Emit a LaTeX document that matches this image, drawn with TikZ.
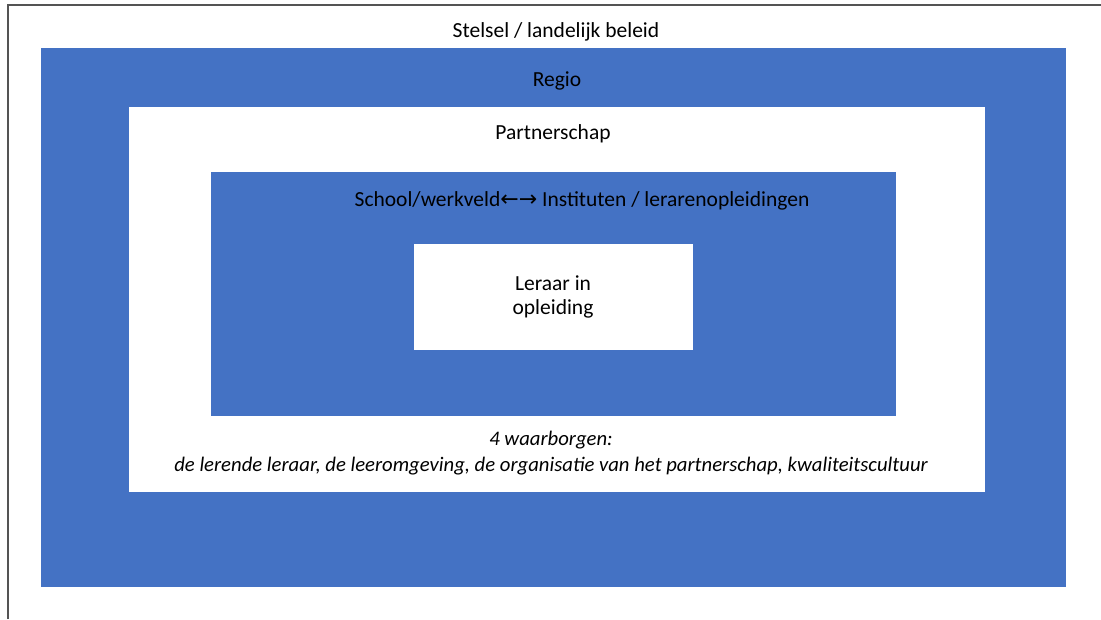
\documentclass[tikz,border=0pt]{standalone}
\usepackage{fontspec}
\setmainfont{Carlito}
\newfontfamily\arrowfont{DejaVu Sans}
\usepackage{tikz}
\usepackage{tkz-euclide}
\usetikzlibrary{calc}
\usetikzlibrary{positioning}
\definecolor{myblue}{rgb}{0.267,0.447,0.769}
\definecolor{framegray}{rgb}{0.33,0.33,0.33}

\begin{document}
\begin{tikzpicture}[%
  x=1pt, y=1pt,
  label/.style={inner sep=0pt, align=center, font=\fontsize{21.5}{24}\selectfont},
  % yscale=0.8,
]

  \useasboundingbox (0,0) rectangle (1101,619);

  % corners of the nested fields
  \tkzDefPoint(41, 32){A}
  \tkzDefPoint(1066, 571){B}
  \tkzDefPoint(129, 127){C}
  \tkzDefPoint(985, 512){D}
  \tkzDefPoint(211, 203){E}
  \tkzDefPoint(896, 447){F}
  \tkzDefPoint(414, 269){G}
  \tkzDefPoint(693, 375){H}

  % page frame
  \tkzDefPoint(8, 0){f0}
  \tkzDefPoint(8, 614){f1}
  \tkzDefPoint(1101, 614){f2}

  \fill[myblue] (A) rectangle (B);
  \fill[white] (C) rectangle (D);
  \fill[myblue] (E) rectangle (F);
  \fill[white] (G) rectangle (H);
  % \draw[blue!40, very thin] (A) rectangle (B);

  \draw[framegray, line width=1.5pt] (f0) -- (f1) -- (f2);

  \node[label] (stelsel) at (556, 587) {Stelsel / landelijk beleid};
  \node[label] (regio) at (557, 538) {Regio};
  \node[label] (partner) at (553, 485) {Partnerschap};
  \node[label] (school) at (582, 418)
    {School/werkveld{\arrowfont\fontsize{22}{24}\selectfont ←→} Instituten / lerarenopleidingen};
  \node[label] (leraar) at (553, 322) {Leraar in\\opleiding};
  \node[label, font=\fontsize{20.7}{26}\selectfont\itshape] (waarborgen) at (551, 166)
    {4 waarborgen:\\de lerende leraar, de leeromgeving, de organisatie van het partnerschap, kwaliteitscultuur};

\end{tikzpicture}
\end{document}
